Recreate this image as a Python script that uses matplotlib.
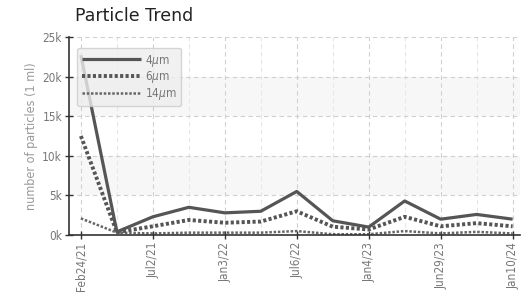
import matplotlib.pyplot as plt
from matplotlib import font_manager
from matplotlib.patches import Rectangle

dates = ['Feb24/21', '', 'Jul2/21', '', 'Jan3/22', '', 'Jul6/22', '',
         'Jan4/23', '', 'Jun29/23', '', 'Jan10/24']
um4 = [22700, 400, 2300, 3500, 2800, 3000, 5500, 1800, 1000, 4300, 2000, 2600, 2000]
um6 = [12500, 350, 1100, 1900, 1550, 1700, 3000, 1050, 700, 2300, 1100, 1500, 1100]
um14 = [2100, 300, 200, 300, 300, 300, 500, 100, 100, 500, 200, 400, 200]
yticks = [0, 5000, 10000, 15000, 20000, 25000]
ylabels = ['0k', '5k', '10k', '15k', '20k', '25k']

names = set(f.name for f in font_manager.fontManager.ttflist)
narrow = [n for n in ('Liberation Sans Narrow', 'DejaVu Sans') if n in names]
plt.rcParams['font.family'] = narrow
plt.rcParams['font.stretch'] = 'condensed'

fig = plt.figure(figsize=(5.24, 2.96), dpi=100)
ax = fig.add_axes([0.1317, 0.206, 0.8603, 0.669])

x = list(range(len(dates)))
ax.set_xlim(-0.33, 12.2)
ax.set_ylim(0, 25000)

# alternating bands
for lo in (5000, 15000):
  ax.add_patch(Rectangle((-1, lo), 20, 5000, color='#f7f7f7', zorder=0, lw=0))

for xi in x:
  c = '#d0d0d0' if xi % 2 == 0 else '#e6e6e6'
  ax.axvline(xi, color=c, ls=(0, (4, 3)), lw=0.8, zorder=1)
for yv in yticks[1:]:
  ax.axhline(yv, color='#d0d0d0', ls=(0, (4, 3)), lw=0.8, zorder=1)

ax.plot(x, um4, color='#555555', lw=2.3, label='4$\\mu$m', zorder=4,
        solid_capstyle='butt')
ax.plot(x, um6, color='#555555', lw=2.8, ls=(0, (0.8, 0.6)), label='6$\\mu$m',
        zorder=3)
ax.plot(x, um14, color='#666666', lw=1.8, ls=(0, (1, 0.7)), label='14$\\mu$m',
        zorder=2)

ax.set_xticks(x[::2])
ax.set_xticklabels(dates[::2], rotation=90, color='#777777', fontsize=8.5)
ax.set_yticks(yticks)
ax.set_yticklabels(ylabels, color='#777777', fontsize=8.5)
ax.tick_params(axis='both', direction='inout', length=6, width=1, color='#333333', pad=2)

for s in ('top', 'right'):
  ax.spines[s].set_visible(False)
ax.spines['left'].set_color('#333333')
ax.spines['bottom'].set_color('#333333')
ax.spines['left'].set_linewidth(1.2)
ax.spines['bottom'].set_linewidth(1.2)

ax.set_ylabel('number of particles (1 ml)', color='#999999', fontsize=9, labelpad=3)
fig.text(0.143, 0.93, 'Particle Trend', fontsize=12.5, color='#222222',
         family=['DejaVu Sans'], stretch='normal')

leg = ax.legend(loc='upper left', bbox_to_anchor=(0.005, 0.975), fontsize=8.5,
                frameon=True, fancybox=True, shadow=False, handlelength=5.0,
                labelspacing=0.05, borderpad=0.4, handletextpad=0.35,
                framealpha=0.8)
leg.get_frame().set_facecolor('#eeeeee')
leg.get_frame().set_edgecolor('#cccccc')
for t in leg.get_texts():
  t.set_color('#777777')

fig.savefig('out.png', dpi=100)
